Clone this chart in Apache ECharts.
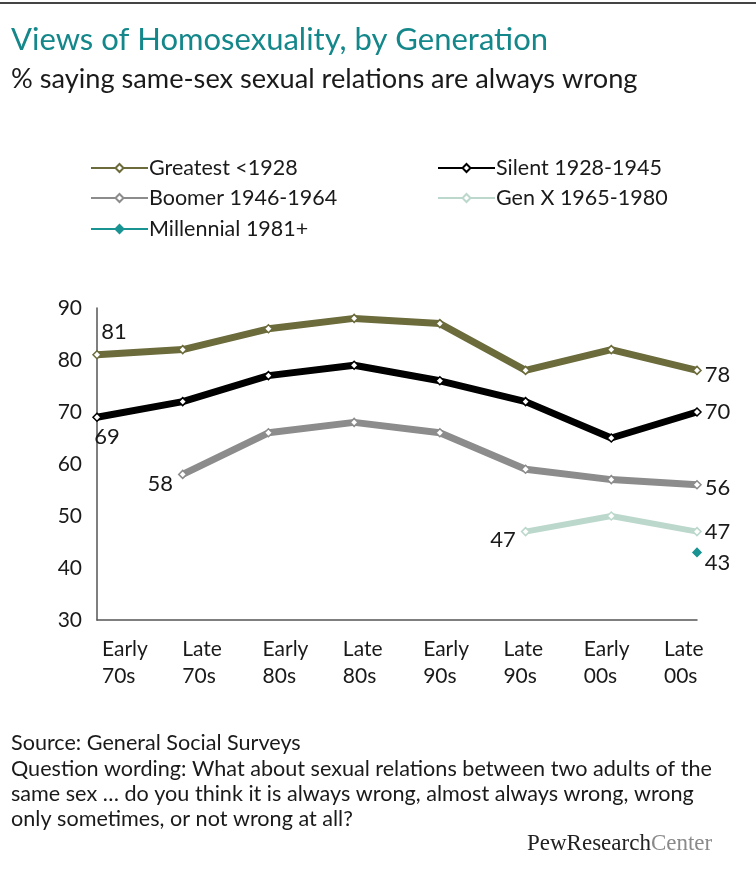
<!DOCTYPE html>
<html>
<head>
<meta charset="utf-8">
<script src="https://cdn.jsdelivr.net/npm/echarts@6/dist/echarts.min.js"></script>
<style>
	html, body { margin: 0; padding: 0; background: #fff; }
	#chart { width: 756px; height: 888px; }
</style>
</head>
<body>
<div id="chart"></div>
<script>
// periods on the x axis
const periods = ['Early\n70s', 'Late\n70s', 'Early\n80s', 'Late\n80s', 'Early\n90s', 'Late\n90s', 'Early\n00s', 'Late\n00s'];
const yTicks = [30, 40, 50, 60, 70, 80, 90];

// % saying always wrong, by generation
const greatest = [81, 82, 86, 88, 87, 78, 82, 78];
const silent = [69, 72, 77, 79, 76, 72, 65, 70];
const boomer = [null, 58, 66, 68, 66, 59, 57, 56];
const genX = [null, null, null, null, null, 47, 50, 47];
const millennial = [null, null, null, null, null, null, null, 43];

const FONT = 'Lato';
const TEXT = '#1a1a1a';

// label only the first and last points of a line
function withEndLabels(values, firstPos, lastPos) {
	const idx = values.map((v, i) => (v == null ? -1 : i)).filter(i => i >= 0);
	const first = idx[0], last = idx[idx.length - 1];
	return values.map((v, i) => {
		if (v == null) return null;
		if (i === first && i !== last && firstPos) return { value: v, label: Object.assign({ show: true }, firstPos) };
		if (i === last && lastPos) return { value: v, label: Object.assign({ show: true }, lastPos) };
		return v;
	});
}

function lineSeries(name, values, color, width, firstPos, lastPos, fill) {
	return {
		name,
		type: 'line',
		data: withEndLabels(values, firstPos, lastPos),
		symbol: 'diamond',
		symbolSize: 8,
		showAllSymbol: true,
		connectNulls: false,
		lineStyle: { color, width },
		itemStyle: { color: fill || '#fff', borderColor: color, borderWidth: 1.5 },
		label: { show: false, color: TEXT, fontFamily: FONT, fontSize: 22, distance: 3, formatter: '{c}' },
		emphasis: { disabled: true },
		z: 3,
	};
}

const chart = echarts.init(document.getElementById('chart'), null, { renderer: 'canvas' });

const legendBase = {
	padding: 0,
	itemWidth: 57,
	itemHeight: 10,
	textStyle: { fontFamily: FONT, fontSize: 21.5, color: TEXT, padding: [0, 0, 0, -4] },
	selectedMode: false,
};

const option = {
	animation: false,
	title: [
		{ text: 'Views of Homosexuality, by Generation', left: 11, top: 24, padding: 0, textStyle: { fontFamily: FONT, fontSize: 31, fontWeight: 'normal', color: '#14878a' } },
		{ text: '% saying same-sex sexual relations are always wrong', left: 11, top: 66, padding: 0, textStyle: { fontFamily: FONT, fontSize: 27.2, fontWeight: 'normal', color: TEXT } },
	],
	legend: [
		Object.assign({ data: ['Greatest <1928'], left: 90, top: 157 }, legendBase),
		Object.assign({ data: ['Silent 1928-1945'], left: 437, top: 157 }, legendBase),
		Object.assign({ data: ['Boomer 1946-1964'], left: 90, top: 187 }, legendBase),
		Object.assign({ data: ['Gen X 1965-1980'], left: 437, top: 187 }, legendBase),
		Object.assign({ data: ['Millennial 1981+'], left: 90, top: 218 }, legendBase),
	],
	grid: [
		{ left: 97, right: 59, top: 308, bottom: 268 },
		{ left: 102, right: 92, top: 308, bottom: 268 },
	],
	xAxis: [
		{
			type: 'category', gridIndex: 0, data: periods, boundaryGap: false,
			axisLine: { show: true, lineStyle: { color: '#555', width: 1.5 } },
			axisTick: { show: false }, axisLabel: { show: false },
		},
		{
			type: 'category', gridIndex: 1, data: periods, boundaryGap: false,
			axisLine: { show: false }, axisTick: { show: false },
			axisLabel: { show: true, align: 'left', margin: 16, fontFamily: FONT, fontSize: 21, lineHeight: 27, color: TEXT, interval: 0 },
		},
	],
	yAxis: [
		{
			type: 'value', gridIndex: 0, min: yTicks[0], max: yTicks[yTicks.length - 1], interval: 10,
			axisLine: { show: true, lineStyle: { color: '#555', width: 1.5 } }, axisTick: { show: false },
			splitLine: { show: false },
			axisLabel: { margin: 15, fontFamily: FONT, fontSize: 21, color: TEXT },
		},
		{ type: 'value', gridIndex: 1, min: 30, max: 90, show: false },
	],
	series: [
		lineSeries('Greatest <1928', greatest, '#6b6b3b', 7, { position: 'top', offset: [17, -4] }, { position: 'right', offset: [0, 5] }),
		lineSeries('Silent 1928-1945', silent, '#000000', 7, { position: 'bottom', offset: [10, 1] }, { position: 'right', offset: [0, 0] }),
		lineSeries('Boomer 1946-1964', boomer, '#8c8c8c', 7, { position: 'left', offset: [-2, 10] }, { position: 'right', offset: [0, 3] }),
		lineSeries('Gen X 1965-1980', genX, '#bcd8cc', 6, { position: 'left', offset: [-2, 8] }, { position: 'right', offset: [0, 0] }),
		lineSeries('Millennial 1981+', millennial, '#1a9393', 6, null, { position: 'right', offset: [0, 11] }, '#1a9393'),
	],
	graphic: [
		{ type: 'line', shape: { x1: 0, y1: 3, x2: 756, y2: 3 }, style: { stroke: '#444', lineWidth: 2 } },
		{ type: 'text', left: 11, top: 732, style: { text: 'Source: General Social Surveys', fontFamily: FONT, fontSize: 21.6, fill: TEXT } },
		{ type: 'text', left: 11, top: 757, style: {
			text: 'Question wording: What about sexual relations between two adults of the\nsame sex … do you think it is always wrong, almost always wrong, wrong\nonly sometimes, or not wrong at all?',
			fontFamily: FONT, fontSize: 21.6, lineHeight: 25, fill: TEXT } },
		{ type: 'text', left: 527, top: 832, style: {
			text: '{a|PewResearch}{b|Center}',
			rich: {
				a: { fontFamily: 'Liberation Serif', fontSize: 23, fill: '#222' },
				b: { fontFamily: 'Liberation Serif', fontSize: 23, fill: '#8a8a8a' },
			} } },
	],
};

chart.setOption(option);
</script>
</body>
</html>
